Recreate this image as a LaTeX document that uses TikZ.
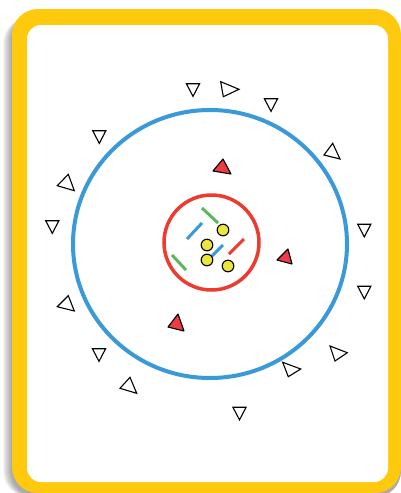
\documentclass[tikz,border=0pt]{standalone}
\definecolor{frameyellow}{HTML}{FFC90E}
\definecolor{ringblue}{HTML}{3A9AD9}
\definecolor{ringred}{HTML}{EE3B2F}
\definecolor{segred}{HTML}{EE3B2F}
\definecolor{seggreen}{HTML}{5CB85C}
\definecolor{dotyellow}{HTML}{ECE63A}
\definecolor{trired}{HTML}{EE3B45}
\tikzset{
  otri/.style={draw=black, line width=1.1pt, line join=miter, fill=white},
  rtri/.style={draw=black, line width=1.1pt, line join=round, fill=trired},
  seg/.style={line width=3pt},
  dot/.style={draw=black, line width=1.1pt, fill=dotyellow},
}
\begin{document}
\begin{tikzpicture}[x=1pt,y=-1pt]
\useasboundingbox (0,0) rectangle (401,493);
% shadow
\foreach \i in {1,...,9}
  \fill[black, opacity=0.045, rounded corners=26pt] (12-\i,14+\i*0.4) rectangle (401,497);
% frame
\fill[frameyellow, rounded corners=26pt] (12,9) rectangle (401,493);
\fill[white, rounded corners=14pt] (27,25) rectangle (388,482);
% rings
\draw[ringblue, line width=4pt] (210,244) ellipse [x radius=137, y radius=134];
\draw[ringred, line width=3.5pt] (211.5,242.5) circle [radius=47.5];
% segments
\draw[seg, seggreen] (202,208) -- (218,223);
\draw[seg, ringblue] (187,239) -- (202,223);
\draw[seg, ringblue] (208,260) -- (223,245);
\draw[seg, segred] (229,254) -- (244,239);
\draw[seg, seggreen] (172,255) -- (186,270);
% dots
\draw[dot] (223,230) circle [radius=5.8];
\draw[dot] (207,245) circle [radius=5.8];
\draw[dot] (207,260) circle [radius=5.8];
\draw[dot] (228,266) circle [radius=5.8];
% red triangles
\draw[rtri] (223,159) -- (213,171) -- (231,174) -- cycle;
\draw[rtri] (288,249) -- (277,260) -- (292,264) -- cycle;
\draw[rtri] (178,314) -- (168,327) -- (184,331) -- cycle;
% down triangles
\foreach \cx/\cy in {193/90, 271/105, 364.3/230.5, 364.3/292.5, 239.5/413.5, 99/355, 52.3/227, 99.3/137}
  \draw[otri] (\cx-6.6,\cy-6.3) -- (\cx+6.6,\cy-6.3) -- (\cx,\cy+6.4) -- cycle;
% tilted triangles
\draw[otri] (220.7,81.7) -- (223.3,96.7) -- (239,89.3) -- cycle;
\draw[otri] (332.7,143.3) -- (324,155) -- (340,159) -- cycle;
\draw[otri] (330,346) -- (335,361) -- (347.3,352.7) -- cycle;
\draw[otri] (282.7,362.3) -- (288.3,376.7) -- (300.7,369) -- cycle;
\draw[otri] (130,377.3) -- (120,388.3) -- (136.7,393.3) -- cycle;
\draw[otri] (68.3,295.7) -- (57.3,306.7) -- (74.3,311) -- cycle;
\draw[otri] (68.3,174.3) -- (57.3,185.7) -- (74.3,190.7) -- cycle;
\end{tikzpicture}
\end{document}
